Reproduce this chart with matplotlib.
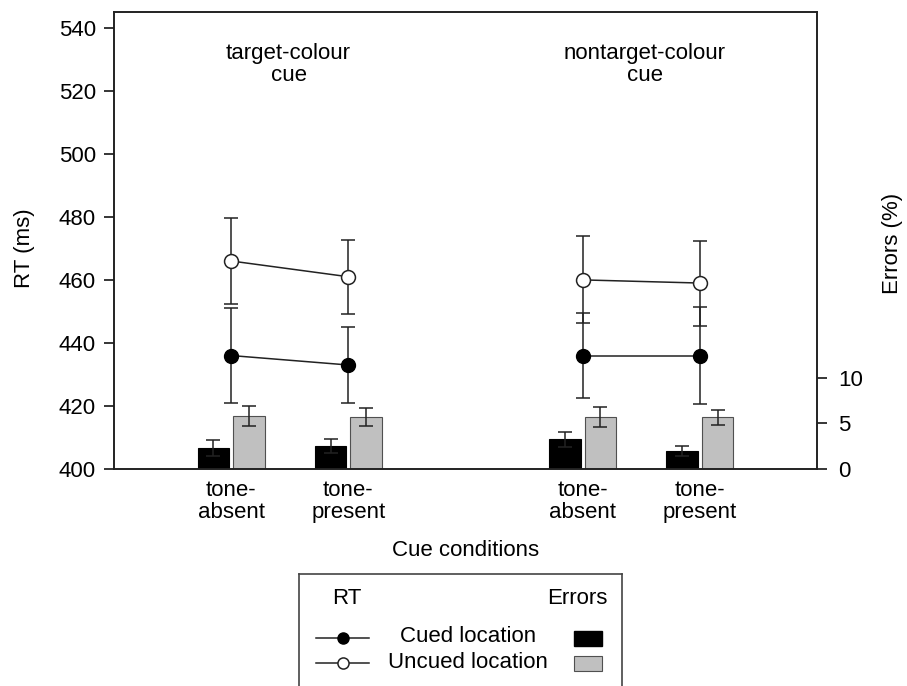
import matplotlib
matplotlib.use("Agg")
import matplotlib.pyplot as plt
from matplotlib.patches import Rectangle
from matplotlib.lines import Line2D

plt.rcParams['font.family'] = ['Liberation Sans', 'DejaVu Sans']
plt.rcParams['font.size'] = 16

# Conditions (x positions: two cue types, two tone conditions each)
positions = [1, 2, 4, 5]
tick_labels = ["tone-\nabsent", "tone-\npresent", "tone-\nabsent", "tone-\npresent"]
group_titles = ["target-colour\ncue", "nontarget-colour\ncue"]

# Mean RT (ms) and standard errors
cued_rt = [436, 433, 436, 436]
cued_rt_se = [15.0, 12.0, 13.4, 15.5]
uncued_rt = [466, 461, 460, 459]
uncued_rt_se = [13.5, 11.7, 13.8, 13.5]

# Error rates (%) and standard errors
cued_err = [2.3, 2.55, 3.25, 2.0]
cued_err_se = [0.85, 0.75, 0.85, 0.55]
uncued_err = [5.8, 5.65, 5.65, 5.65]
uncued_err_se = [1.05, 1.0, 1.1, 0.8]

fig = plt.figure(figsize=(9.07, 6.86), dpi=100)
ax = fig.add_axes([114 / 907, 1 - 469 / 686, 703 / 907, 457 / 686])
ax2 = ax.twinx()
ax.set_zorder(ax2.get_zorder() + 1)
ax.patch.set_visible(False)

# Error-rate bars on the right axis
bw = 0.27
off = 0.152
xb_c = [p - off for p in positions]
xb_u = [p + off for p in positions]
ax2.bar(xb_c, cued_err, width=bw, color='black', edgecolor='black', linewidth=0.8, zorder=2)
ax2.bar(xb_u, uncued_err, width=bw, color='#c0c0c0', edgecolor='#505050', linewidth=0.8, zorder=2)
ax2.errorbar(xb_c, cued_err, yerr=cued_err_se, fmt='none', ecolor='#222222',
             elinewidth=1.1, capsize=5, capthick=1.1, zorder=3)
ax2.errorbar(xb_u, uncued_err, yerr=uncued_err_se, fmt='none', ecolor='#222222',
             elinewidth=1.1, capsize=5, capthick=1.1, zorder=3)
ax2.set_ylim(0, 50)
ax2.set_yticks([0, 5, 10])
ax2.tick_params(axis='y', direction='out', length=7, width=1.1, pad=8)
ax2.set_ylabel("Errors (%)")
ax2.yaxis.set_label_coords((882 - 114) / 703, (469 - 243) / 457)

# RT lines, each cue type connected separately
for g in range(2):
    sl = slice(2 * g, 2 * g + 2)
    ax.errorbar(positions[sl], uncued_rt[sl], yerr=uncued_rt_se[sl], color='#222222',
                marker='o', markersize=10, markerfacecolor='white', markeredgecolor='#222222',
                markeredgewidth=1.1, linewidth=1.1, elinewidth=1.1, capsize=5, capthick=1.1, zorder=4)
    ax.errorbar(positions[sl], cued_rt[sl], yerr=cued_rt_se[sl], color='#222222',
                marker='o', markersize=10, markerfacecolor='black', markeredgecolor='black',
                linewidth=1.1, elinewidth=1.1, capsize=5, capthick=1.1, zorder=4)

ax.set_xlim(0, 6)
ax.set_ylim(400, 545)
ax.set_yticks(range(400, 541, 20))
ax.set_xticks(positions)
ax.set_xticklabels(tick_labels, linespacing=1.08)
ax.tick_params(axis='x', length=0, pad=8)
ax.tick_params(axis='y', direction='out', length=7, width=1.1, pad=6)
ax.set_xlabel("Cue conditions", labelpad=12)
ax.set_ylabel("RT (ms)")
ax.yaxis.set_label_coords((35 - 114) / 703, (469 - 248) / 457)
for a in (ax, ax2):
    for s in a.spines.values():
        s.set_linewidth(1.2)
        s.set_color('#222222')

ax.text(1.49, 528.4, group_titles[0], ha='center', va='center', linespacing=1.08)
ax.text(4.53, 528.4, group_titles[1], ha='center', va='center', linespacing=1.08)

# Legend panel (coordinates in figure pixels)
lg = fig.add_axes([299 / 907, 1 - 700 / 686, 323 / 907, 126 / 686])
lg.set_xlim(299, 622)
lg.set_ylim(700, 574)
lg.set_xticks([])
lg.set_yticks([])
for s in lg.spines.values():
    s.set_linewidth(1.2)
    s.set_color('#444444')
lg.text(347, 598, "RT", ha='center', va='center')
lg.text(577, 598, "Errors", ha='center', va='center')
lg.add_line(Line2D([316, 369], [638, 638], color='#222222', lw=1.1))
lg.plot([343], [638], marker='o', markersize=8, color='black')
lg.add_line(Line2D([316, 369], [663, 663], color='#222222', lw=1.1))
lg.plot([343], [663], marker='o', markersize=8, markerfacecolor='white',
        markeredgecolor='#222222', markeredgewidth=1.1)
lg.text(468, 637, "Cued location", ha='center', va='center')
lg.text(468, 662, "Uncued location", ha='center', va='center')
lg.add_patch(Rectangle((574, 630.5), 28, 15, facecolor='black', edgecolor='black'))
lg.add_patch(Rectangle((574, 655.5), 28, 15, facecolor='#c0c0c0', edgecolor='#505050', lw=0.8))

fig.savefig("out.png", dpi=100)
